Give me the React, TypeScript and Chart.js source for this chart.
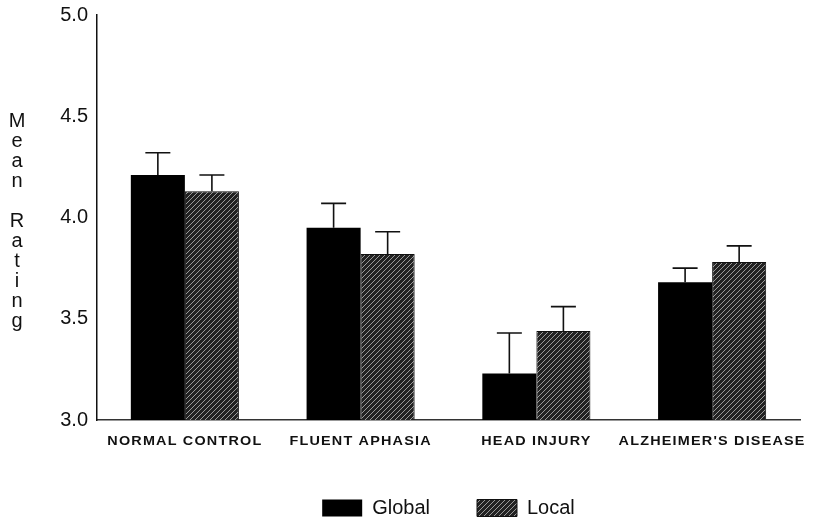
import React, { useEffect, useRef } from "react";
import { Chart, registerables } from "chart.js";

Chart.register(...registerables);

const categories = ["NORMAL CONTROL", "FLUENT APHASIA", "HEAD INJURY", "ALZHEIMER'S DISEASE"];
const globalMeans = [4.21, 3.95, 3.23, 3.68];
const globalErrors = [0.11, 0.12, 0.2, 0.07];
const localMeans = [4.13, 3.82, 3.44, 3.78];
const localErrors = [0.08, 0.11, 0.12, 0.08];
const seriesNames = ["Global", "Local"];
const yTitle = "Mean Rating";
const yMin = 3.0;
const yMax = 5.0;
const yStep = 0.5;

const FONT = '"Liberation Sans", Arial, Helvetica, sans-serif';

function makeHatch(): CanvasPattern | string {
  const size = 5;
  const c = document.createElement("canvas");
  c.width = size;
  c.height = size;
  const g = c.getContext("2d");
  if (!g) return "#444";
  g.fillStyle = "#222";
  g.fillRect(0, 0, size, size);
  g.strokeStyle = "#9a9a9a";
  g.lineWidth = 1;
  g.beginPath();
  g.moveTo(0, size);
  g.lineTo(size, 0);
  g.moveTo(-1, 1);
  g.lineTo(1, -1);
  g.moveTo(size - 1, size + 1);
  g.lineTo(size + 1, size - 1);
  g.stroke();
  const p = g.createPattern(c, "repeat");
  return p || "#444";
}

const errorBarPlugin = {
  id: "errorBars",
  afterDatasetsDraw(chart: any) {
    const { ctx } = chart;
    const yScale = chart.scales.y;
    const errs = [globalErrors, localErrors];
    const means = [globalMeans, localMeans];
    ctx.save();
    ctx.strokeStyle = "#111";
    ctx.lineWidth = 1.6;
    chart.data.datasets.forEach((_ds: any, di: number) => {
      const meta = chart.getDatasetMeta(di);
      meta.data.forEach((bar: any, i: number) => {
        const top = yScale.getPixelForValue(means[di][i] + errs[di][i]);
        const x = bar.x;
        ctx.beginPath();
        ctx.moveTo(x, bar.y);
        ctx.lineTo(x, top);
        ctx.moveTo(x - 12.5, top);
        ctx.lineTo(x + 12.5, top);
        ctx.stroke();
      });
    });
    ctx.restore();
  },
};

const textPlugin = {
  id: "customText",
  afterDraw(chart: any) {
    const { ctx, chartArea } = chart;
    const xScale = chart.scales.x;
    ctx.save();
    ctx.fillStyle = "#111";
    // x category labels
    ctx.font = `bold 12px ${FONT}`;
    ctx.textAlign = "center";
    ctx.textBaseline = "middle";
    try {
      (ctx as any).letterSpacing = "1px";
    } catch (e) {}
    categories.forEach((label, i) => {
      const x = xScale.getPixelForValue(i);
      ctx.save();
      ctx.translate(x, chartArea.bottom + 22);
      ctx.scale(1.2, 1);
      ctx.fillText(label, 0, 0);
      ctx.restore();
    });
    try {
      (ctx as any).letterSpacing = "0px";
    } catch (e) {}
    // vertical stacked y title
    ctx.font = `20px ${FONT}`;
    const chars = yTitle.split("");
    const step = 20;
    const mid = (chartArea.top + chartArea.bottom) / 2 + 4;
    const start = mid - ((chars.length - 1) * step) / 2;
    chars.forEach((ch, i) => {
      if (ch !== " ") ctx.fillText(ch, 17, start + i * step);
    });
    ctx.restore();
  },
};

export default function App() {
  const ref = useRef<HTMLCanvasElement | null>(null);
  useEffect(() => {
    if (!ref.current) return;
    const hatch = makeHatch();
    const chart = new Chart(ref.current, {
      type: "bar",
      data: {
        labels: categories,
        datasets: [
          {
            label: seriesNames[0],
            data: globalMeans,
            backgroundColor: "#000",
            borderColor: "#000",
            borderWidth: 0,
            categoryPercentage: 0.615,
            barPercentage: 1.0,
          },
          {
            label: seriesNames[1],
            data: localMeans,
            backgroundColor: hatch as any,
            borderColor: "#111",
            borderWidth: 1,
            categoryPercentage: 0.615,
            barPercentage: 1.0,
          },
        ],
      },
      options: {
        responsive: false,
        animation: false,
        layout: { padding: { left: 0, right: 31, top: 15, bottom: -2 } },
        plugins: {
          tooltip: { enabled: false },
          legend: {
            position: "bottom",
            fullSize: false,
            labels: {
              boxWidth: 40,
              boxHeight: 17,
              padding: 47,
              color: "#111",
              font: { family: FONT, size: 20 },
            },
          },
        },
        scales: {
          x: {
            grid: { display: false, drawTicks: false },
            border: { display: true, color: "#333", width: 1.5 },
            ticks: { display: false },
            afterFit: (axis: any) => {
              axis.height = 31;
            },
          },
          y: {
            min: yMin,
            max: yMax,
            grid: { display: false, drawTicks: true, tickLength: 9 },
            border: { display: true, color: "#111", width: 1.5 },
            ticks: {
              stepSize: yStep,
              padding: 0,
              color: "#111",
              font: { family: FONT, size: 20 },
              callback: (v: any) => Number(v).toFixed(1),
            },
            afterFit: (axis: any) => {
              axis.width = 97;
            },
          },
        },
      },
      plugins: [errorBarPlugin, textPlugin],
    });
    return () => chart.destroy();
  }, []);
  return (
    <div style={{ position: "absolute", left: 0, top: 0, width: 831, height: 526, background: "#fff" }}>
      <canvas ref={ref} width={831} height={526} />
    </div>
  );
}
